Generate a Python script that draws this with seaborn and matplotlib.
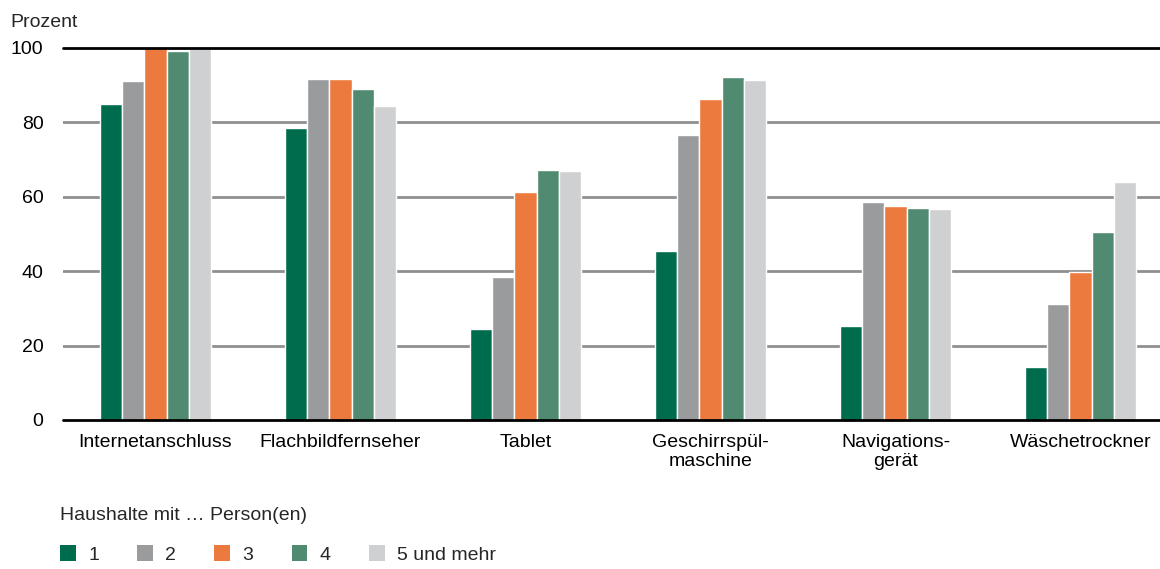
import matplotlib
matplotlib.use("Agg")
import matplotlib.pyplot as plt
import seaborn as sns
import pandas as pd
from matplotlib.patches import Patch

categories = ["Internetanschluss", "Flachbildfernseher", "Tablet",
              "Geschirrspül-\nmaschine", "Navigations-\ngerät", "Wäschetrockner"]
groups = ["1", "2", "3", "4", "5 und mehr"]
values_1 = [85.0, 78.6, 24.5, 45.3, 25.3, 14.3]
values_2 = [91.0, 91.7, 38.4, 76.7, 58.6, 31.1]
values_3 = [100.0, 91.6, 61.4, 86.3, 57.5, 39.7]
values_4 = [99.3, 89.0, 67.1, 92.2, 57.0, 50.5]
values_5 = [99.9, 84.4, 67.0, 91.4, 56.7, 64.0]
yticks = [0, 20, 40, 60, 80, 100]
colors = ["#006c4e", "#9a9b9d", "#ec7a3e", "#508b71", "#cfd0d2"]

series = [values_1, values_2, values_3, values_4, values_5]
rows = []
for g, vals in zip(groups, series):
    for c, v in zip(categories, vals):
        rows.append({"Kategorie": c, "Gruppe": g, "Wert": v})
df = pd.DataFrame(rows)

sns.set_theme(style="white")
plt.rcParams["font.family"] = ["Liberation Sans", "DejaVu Sans"]

FS = 14

fig = plt.figure(figsize=(11.6, 5.69), dpi=100)
ax = fig.add_axes([63/1160, 1-420/569, 1-63/1160, (420-48)/569])

sns.barplot(data=df, x="Kategorie", y="Wert", hue="Gruppe", order=categories,
            hue_order=groups, palette=colors, width=0.6, edgecolor="white",
            linewidth=1.0, saturation=1, ax=ax, zorder=3)

ax.set_ylim(0, 100)
ax.set_xlim(-0.5, 5.43)
ax.set_yticks(yticks)
ax.set_yticklabels([str(t) for t in yticks])
for t in [20, 40, 60, 80]:
    ax.axhline(t, color="#8f8f8f", lw=2.0, zorder=1)
ax.axhline(100, color="black", lw=2.0, zorder=4, clip_on=False)
ax.axhline(0, color="black", lw=2.0, zorder=4, clip_on=False)

for s in ["top", "right", "left", "bottom"]:
    ax.spines[s].set_visible(False)
ax.set_xlabel("")
ax.set_ylabel("")
ax.tick_params(axis="both", length=0, labelsize=FS, colors="black")
ax.tick_params(axis="y", pad=14)
ax.tick_params(axis="x", pad=10)
ax.get_legend().remove()

fig.text(10/1160, 1-27/569, "Prozent", fontsize=FS, ha="left", va="baseline")

handles = [Patch(facecolor=c, edgecolor="none") for c in colors]
leg = fig.legend(handles, groups, loc="upper left",
                 bbox_to_anchor=(60/1160, 1-507/569), ncol=5, frameon=False,
                 title="Haushalte mit … Person(en)", title_fontsize=FS,
                 fontsize=FS, handlelength=0.82, handleheight=0.82,
                 handletextpad=0.62, columnspacing=1.97, labelspacing=1.1,
                 borderpad=0, borderaxespad=0, alignment="left")

fig.savefig("out.png", dpi=100)
